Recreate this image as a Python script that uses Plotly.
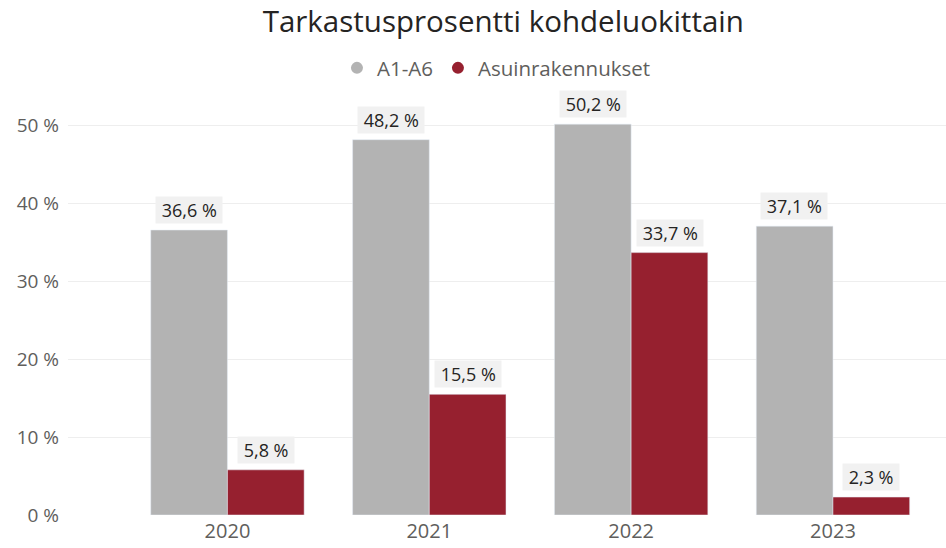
import plotly.graph_objects as go

years = ["2020", "2021", "2022", "2023"]
a1_a6 = [36.6, 48.2, 50.2, 37.1]
asuin = [5.8, 15.5, 33.7, 2.3]
series_names = ["A1-A6", "Asuinrakennukset"]
colors = ["#b3b3b3", "#96202f"]
y_ticks = [0, 10, 20, 30, 40, 50]

FONT = "Open Sans, Noto Sans, sans-serif"

fig = go.Figure()
for name, vals, col in zip(series_names, [a1_a6, asuin], colors):
    fig.add_trace(go.Bar(x=years, y=vals, name=name, marker_color=col,
                         showlegend=False, hoverinfo="skip"))
    fig.add_trace(go.Scatter(x=[years[0]], y=[None], mode="markers", name=name,
                             hoverinfo="skip",
                             marker=dict(symbol="circle", size=12, color=col)))

for vals, shift in zip([a1_a6, asuin], [-38.5, 38.5]):
    for i, v in enumerate(vals):
        fig.add_annotation(
            x=i, y=v, xref="x", yref="y", xshift=shift, yshift=6,
            yanchor="bottom", showarrow=False,
            text="&nbsp;" + f"{v:.1f}".replace(".", ",") + " %&nbsp;",
            font=dict(family=FONT, size=18, color="#252423"),
            bgcolor="#f1f1f1", borderpad=1)

fig.update_layout(
    width=946, height=548,
    margin=dict(l=68, r=0, t=100, b=33),
    plot_bgcolor="white", paper_bgcolor="white",
    barmode="group", bargap=0.24, bargroupgap=0,
    title=dict(text="Tarkastusprosentti kohdeluokittain", x=0.532, xanchor="center",
               y=0.96, yanchor="middle",
               font=dict(family=FONT, size=29.5, color="#252423")),
    legend=dict(orientation="h", x=0.488, xanchor="center", y=1.077, yanchor="middle",
                font=dict(family=FONT, size=20.5, color="#605e5c"),
                itemwidth=30),
    xaxis=dict(type="category", range=[-0.79, 3.56], showgrid=False, zeroline=False,
               automargin=False, ticks="", ticklabelstandoff=2,
               tickfont=dict(family=FONT, size=20, color="#605e5c")),
    yaxis=dict(range=[0, 53.3], tickvals=y_ticks,
               ticktext=[f"{t} %" for t in y_ticks],
               showgrid=True, gridcolor="#eeeeee", gridwidth=1,
               zeroline=False, automargin=False, ticks="", ticklabelstandoff=8,
               tickfont=dict(family=FONT, size=19, color="#605e5c")),
)

fig.write_html("out.html", config={"displayModeBar": False},
               post_script="document.body.style.margin='0';")
